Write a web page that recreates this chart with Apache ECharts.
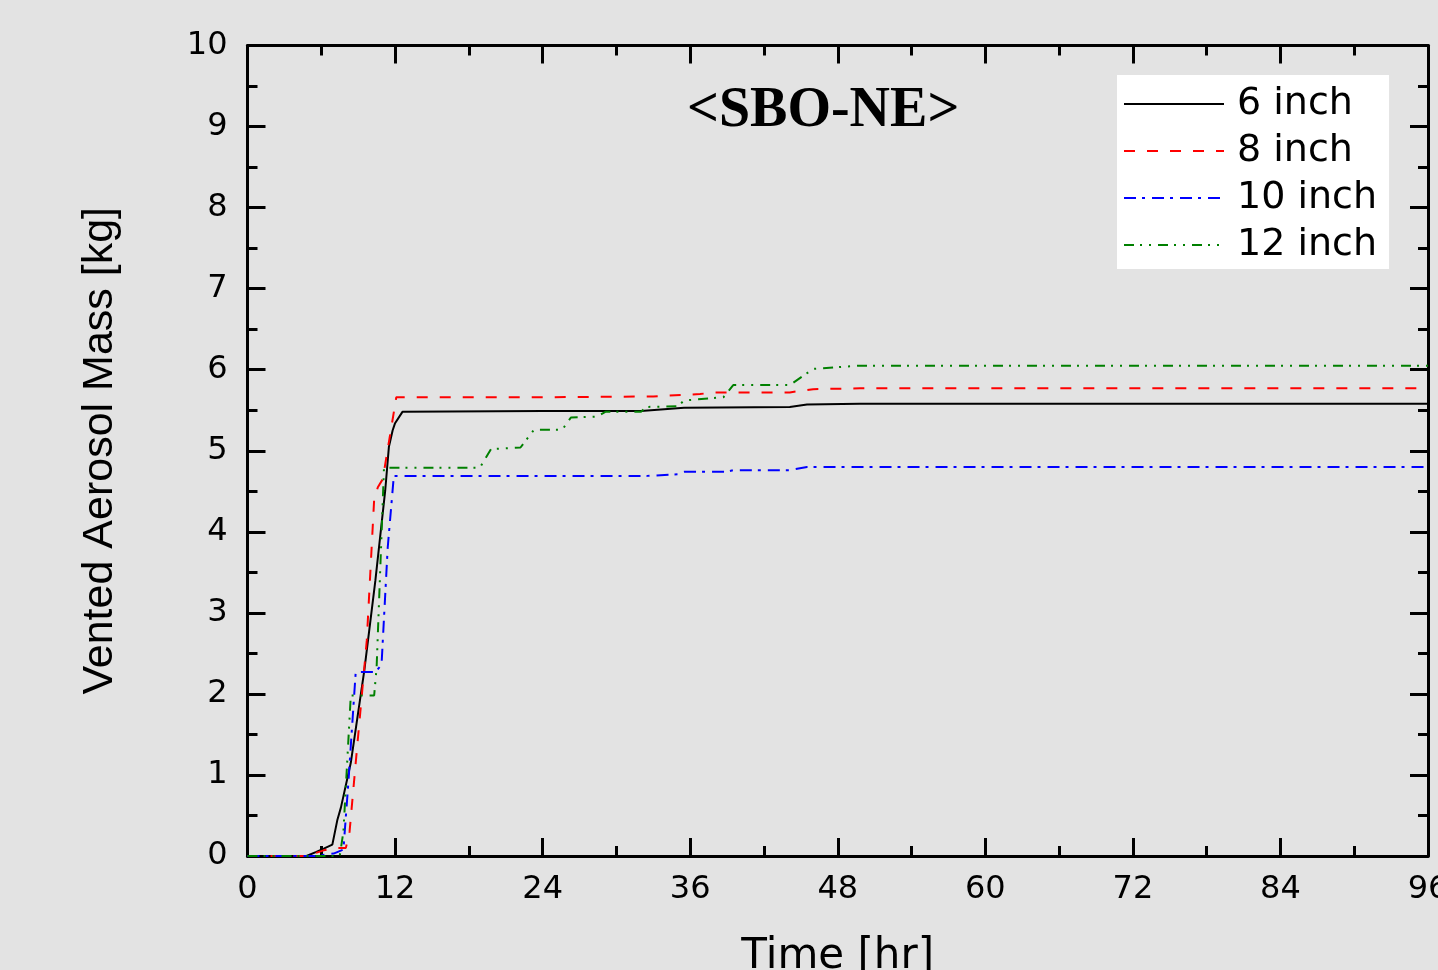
<!DOCTYPE html>
<html>
<head>
<meta charset="utf-8">
<script src="https://cdn.jsdelivr.net/npm/echarts@6/dist/echarts.min.js"></script>
<style>
  html, body { margin: 0; padding: 0; background: #e3e3e3; }
  #chart { width: 1438px; height: 970px; }
</style>
</head>
<body>
<div id="chart"></div>
<script>
// Vented aerosol mass for four vent sizes, SBO-NE case
const seriesNames = ['6 inch', '8 inch', '10 inch', '12 inch'];

const t6 = [0, 4.8, 5.6, 6.2, 6.9, 7.3, 7.6, 8.4, 9.5, 10.4, 11.2, 11.5, 11.8, 12.0, 12.6, 24, 32, 35.5, 44.1, 45.5, 49.8, 96];
const v6 = [0, 0, 0.05, 0.09, 0.14, 0.44, 0.6, 1.15, 2.29, 3.4, 4.51, 5.05, 5.25, 5.34, 5.48, 5.49, 5.49, 5.53, 5.54, 5.57, 5.58, 5.58];

const t8 = [0, 4.8, 6.2, 7.2, 8.0, 8.3, 8.8, 9.7, 10.3, 10.6, 11.0, 12.1, 24, 33, 36.8, 38, 44.1, 46, 49.8, 96];
const v8 = [0, 0, 0.07, 0.1, 0.1, 0.3, 1.15, 2.66, 4.4, 4.55, 4.65, 5.66, 5.66, 5.67, 5.70, 5.72, 5.72, 5.76, 5.77, 5.77];

const t10 = [0, 5.5, 7.0, 7.8, 8.2, 8.8, 10.4, 10.9, 11.4, 11.9, 24, 32.5, 35, 35.5, 39, 39.5, 44.1, 45.5, 50, 96];
const v10 = [0, 0, 0.03, 0.08, 0.9, 2.27, 2.27, 2.36, 3.8, 4.69, 4.69, 4.69, 4.71, 4.74, 4.74, 4.76, 4.76, 4.80, 4.80, 4.80];

const t12 = [0, 7.5, 7.8, 8.4, 10.3, 10.5, 11.1, 18.9, 19.8, 22.2, 23.3, 25.6, 26.3, 28.4, 29.1, 32.0, 32.4, 35.0, 35.5, 38.7, 39.5, 44.1, 46.0, 49.8, 96];
const v12 = [0, 0, 0.3, 1.98, 1.98, 2.33, 4.79, 4.79, 5.02, 5.04, 5.26, 5.26, 5.41, 5.42, 5.48, 5.48, 5.54, 5.55, 5.62, 5.66, 5.81, 5.81, 6.01, 6.05, 6.05];

const xTickLabels = [0, 12, 24, 36, 48, 60, 72, 84, 96];

function pairs(ts, vs) { return ts.map((t, i) => [t, vs[i]]); }

const chart = echarts.init(document.getElementById('chart'), null, { renderer: 'canvas' });

const axisLineStyle = { color: '#000', width: 3 };
const labelFont = { fontFamily: 'DejaVu Sans', fontSize: 32, color: '#000' };

function xAxisDef(pos, showLabel) {
  return {
    type: 'value', position: pos, min: 0, max: 96, interval: 12,
    axisLine: { show: true, onZero: false, lineStyle: axisLineStyle },
    axisTick: { show: true, inside: true, length: 18, lineStyle: { color: '#000', width: 3 } },
    minorTick: { show: true, splitNumber: 2, length: 10, lineStyle: { color: '#000', width: 3 } },
    splitLine: { show: false }, minorSplitLine: { show: false },
    axisLabel: Object.assign({ show: showLabel, margin: 18, hideOverlap: false,
      formatter: v => xTickLabels.includes(v) ? String(v) : '' }, labelFont)
  };
}
function yAxisDef(pos, showLabel) {
  return {
    type: 'value', position: pos, min: 0, max: 10, interval: 1,
    axisLine: { show: true, onZero: false, lineStyle: axisLineStyle },
    axisTick: { show: true, inside: true, length: 18, lineStyle: { color: '#000', width: 3 } },
    minorTick: { show: true, splitNumber: 2, length: 10, lineStyle: { color: '#000', width: 3 } },
    splitLine: { show: false }, minorSplitLine: { show: false },
    axisLabel: Object.assign({ show: showLabel, margin: 20, padding: [3, 0, 0, 0] }, labelFont)
  };
}

const xBottom = xAxisDef('bottom', true);
xBottom.name = 'Time [hr]';
xBottom.nameLocation = 'middle';
xBottom.nameGap = 80;
xBottom.nameTextStyle = { fontFamily: 'DejaVu Sans', fontSize: 42, color: '#000' };

const yLeft = yAxisDef('left', true);
yLeft.name = 'Vented Aerosol Mass [kg]';
yLeft.nameLocation = 'middle';
yLeft.nameGap = 126;
yLeft.nameTextStyle = { fontFamily: 'Liberation Sans', fontSize: 43, color: '#000' };

const lineDefs = [
  { name: seriesNames[0], data: pairs(t6, v6), color: '#000000', type: 'solid' },
  { name: seriesNames[1], data: pairs(t8, v8), color: '#ff0000', type: [11, 12] },
  { name: seriesNames[2], data: pairs(t10, v10), color: '#0000ff', type: [12, 6, 3, 7] },
  { name: seriesNames[3], data: pairs(t12, v12), color: '#008000', type: [10, 6, 2, 7, 2, 7] }
];

chart.setOption({
  backgroundColor: '#e3e3e3',
  animation: false,
  title: {
    text: '<SBO-NE>',
    left: 687, top: 84, padding: 0,
    textStyle: { fontFamily: 'Liberation Serif', fontWeight: 'bold', fontSize: 56, color: '#000' }
  },
  legend: {
    orient: 'vertical',
    left: 1117, top: 75,
    backgroundColor: '#ffffff',
    padding: [9, 12, 4, 6],
    itemWidth: 100, itemHeight: 14, itemGap: 7,
    itemStyle: { opacity: 0 },
    textStyle: { fontFamily: 'DejaVu Sans', fontSize: 38, color: '#000', lineHeight: 40, padding: [0, 0, 0, 8] },
    data: seriesNames
  },
  grid: { left: 247.5, right: 10, top: 45.5, bottom: 114, containLabel: false, outerBoundsMode: 'none' },
  xAxis: [xBottom, xAxisDef('top', false)],
  yAxis: [yLeft, yAxisDef('right', false)],
  series: lineDefs.map(d => ({
    name: d.name,
    type: 'line',
    xAxisIndex: 0, yAxisIndex: 0,
    data: d.data,
    symbol: 'none',
    smooth: false,
    color: d.color,
    lineStyle: { color: d.color, width: 2, type: d.type }
  }))
});
</script>
</body>
</html>
